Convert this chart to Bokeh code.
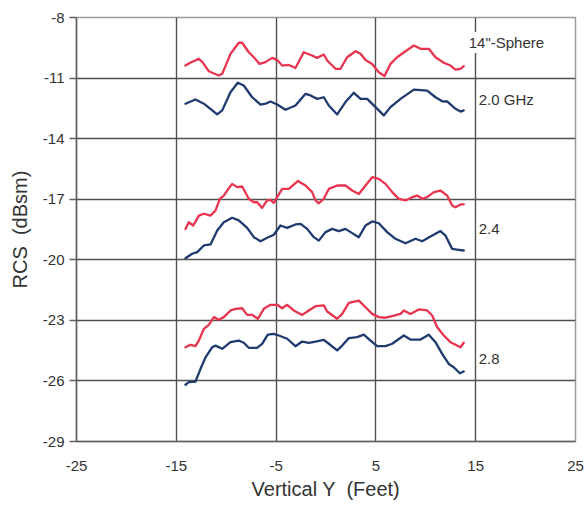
from bokeh.plotting import figure
from bokeh.models import Range1d, FixedTicker, Label
from bokeh.embed import file_html
from bokeh.resources import INLINE

# ---- data ----
x_ticks = [-25, -15, -5, 5, 15, 25]
y_ticks = [-29, -26, -23, -20, -17, -14, -11, -8]

red_20_x = [-14.08, -13.6, -12.75, -12.4, -11.75, -10.74, -10.4, -9.57, -8.74, -8.4, -7.74, -7.23, -6.66, -6.06, -5.39,
            -4.9, -4.39, -3.73, -3.06, -2.23, -1.4, -0.9, -0.22, 0.12, 0.95, 1.45, 2.12, 2.96, 3.46, 3.96,
            4.63, 5.29, 5.86, 6.46, 7.13, 7.97, 8.8, 9.47, 10.3, 10.97, 11.8, 12.47, 12.97, 13.48, 13.8]
red_20_y = [-10.38, -10.24, -10.05, -10.2, -10.66, -10.87, -10.79, -9.8, -9.25, -9.25, -9.72, -9.97, -10.3, -10.21, -10.0,
            -10.1, -10.38, -10.35, -10.5, -9.72, -9.88, -10.0, -9.83, -10.13, -10.54, -10.54, -9.97, -9.67, -9.8, -10.1,
            -10.3, -10.71, -10.9, -10.3, -9.97, -9.67, -9.39, -9.55, -9.55, -9.97, -10.24, -10.38, -10.58, -10.54, -10.41]

blue_20_x = [-14.08, -13.08, -12.24, -10.9, -10.4, -9.57, -8.84, -8.24, -7.4, -6.56, -6.06, -5.56, -4.89, -4.06, -3.06,
             -2.05, -1.55, -0.88, -0.22, 0.28, 1.12, 1.95, 2.79, 3.46, 4.13, 4.96, 5.79, 6.46, 7.47, 8.8,
             10.14, 10.97, 11.64, 12.14, 12.98, 13.48, 13.8]
blue_20_y = [-12.27, -12.06, -12.27, -12.8, -12.6, -11.7, -11.23, -11.37, -11.95, -12.31, -12.27, -12.16, -12.31, -12.57, -12.36,
             -11.78, -11.86, -12.03, -11.95, -12.36, -12.8, -12.19, -11.73, -12.03, -12.03, -12.44, -12.85, -12.44, -12.03, -11.57,
             -11.62, -11.95, -12.15, -12.16, -12.52, -12.66, -12.6]

red_24_x = [-14.08, -13.75, -13.3, -12.74, -12.24, -11.57, -11.07, -10.64, -10.24, -9.9, -9.4, -8.9, -8.4, -7.74, -7.23,
            -6.9, -6.4, -5.9, -5.57, -5.23, -4.9, -4.39, -3.73, -2.82, -2.05, -1.39, -1.05, -0.72, -0.22, 0.28,
            1.12, 1.95, 2.62, 3.29, 3.96, 4.63, 5.29, 5.96, 6.63, 7.3, 7.97, 8.64, 9.14, 9.64, 10.14,
            10.81, 11.47, 12.14, 12.64, 12.97, 13.48, 13.8]
red_24_y = [-18.47, -18.14, -18.3, -17.81, -17.72, -17.81, -17.56, -16.98, -16.82, -16.57, -16.24, -16.4, -16.37, -16.98, -17.15,
            -17.15, -17.43, -17.06, -17.03, -17.18, -16.9, -16.49, -16.49, -16.1, -16.32, -16.65, -17.06, -17.2, -16.98, -16.49,
            -16.32, -16.32, -16.57, -16.74, -16.32, -15.91, -15.99, -16.24, -16.65, -16.98, -17.06, -16.9, -16.82, -16.98, -16.9,
            -16.65, -16.57, -16.82, -17.31, -17.4, -17.26, -17.26]

blue_24_x = [-14.08, -13.41, -12.9, -12.24, -11.57, -10.9, -10.24, -9.4, -8.74, -7.9, -7.23, -6.56, -5.89, -5.23, -4.56,
             -3.89, -3.06, -2.55, -1.89, -1.22, -0.72, -0.05, 0.62, 1.28, 1.95, 2.62, 3.29, 3.96, 4.63, 5.29,
             6.13, 6.96, 7.97, 8.97, 9.64, 10.47, 11.47, 11.97, 12.64, 13.14, 13.8]
blue_24_y = [-19.92, -19.7, -19.62, -19.29, -19.24, -18.55, -18.14, -17.92, -18.05, -18.42, -18.88, -19.08, -18.91, -18.76, -18.3,
             -18.42, -18.25, -18.22, -18.47, -18.88, -19.05, -18.63, -18.47, -18.58, -18.47, -18.68, -18.88, -18.3, -18.1, -18.19,
             -18.63, -18.96, -19.18, -18.96, -19.08, -18.85, -18.58, -18.8, -19.46, -19.5, -19.54]

red_28_x = [-14.08, -13.58, -13.08, -12.74, -12.24, -11.74, -11.24, -10.74, -10.24, -9.57, -9.07, -8.4, -7.9, -7.4, -6.83,
            -6.23, -5.56, -4.89, -4.39, -3.89, -3.23, -2.39, -1.72, -1.05, -0.22, 0.12, 1.12, 1.62, 2.29, 3.29,
            3.96, 4.63, 5.29, 5.96, 6.63, 7.47, 7.8, 8.46, 9.3, 10.14, 10.64, 11.14, 11.8, 12.47, 13.14, 13.48, 13.8]
red_28_y = [-24.33, -24.21, -24.28, -24.0, -23.42, -23.22, -22.84, -22.97, -22.84, -22.51, -22.43, -22.4, -22.73, -22.73, -22.92,
            -22.43, -22.23, -22.23, -22.4, -22.23, -22.51, -22.73, -22.51, -22.3, -22.26, -22.56, -22.92, -22.68, -22.13, -22.02,
            -22.35, -22.68, -22.84, -22.87, -22.79, -22.68, -22.51, -22.68, -22.46, -22.51, -22.76, -23.34, -23.75, -24.08, -24.25,
            -24.33, -24.11]

blue_28_x = [-14.08, -13.75, -13.08, -12.57, -12.07, -11.4, -11.07, -10.4, -9.57, -8.74, -8.24, -7.74, -6.9, -6.4, -5.83,
             -5.23, -4.73, -3.89, -3.06, -2.39, -1.72, -1.05, -0.22, 0.28, 1.12, 1.62, 2.29, 3.12, 3.79, 4.46,
             5.13, 5.96, 6.63, 7.8, 8.46, 9.47, 10.3, 10.97, 11.64, 12.3, 12.8, 13.41, 13.8]
blue_28_y = [-26.19, -26.06, -26.03, -25.4, -24.83, -24.33, -24.25, -24.41, -24.08, -24.0, -24.11, -24.36, -24.36, -24.16, -23.71,
             -23.67, -23.75, -23.91, -24.28, -24.05, -24.11, -24.05, -23.97, -24.16, -24.49, -24.25, -23.88, -23.83, -23.71, -24.0,
             -24.28, -24.28, -24.16, -23.75, -23.95, -23.95, -23.71, -24.08, -24.66, -25.16, -25.32, -25.62, -25.53]

label_texts = ['14"-Sphere', "2.0 GHz", "2.4", "2.8"]
label_x = [14.1, 15.1, 15.1, 15.1]
label_y = [-9.24, -12.08, -18.46, -24.9]

RED = "#e8344e"
BLUE = "#1f3a6e"
FONT = "Liberation Sans"
TXT = "#333333"
GRID = "#505050"

p = figure(width=585, height=506, output_backend="svg", toolbar_location=None,
           x_range=Range1d(-25, 25), y_range=Range1d(-29, -8),
           min_border_left=76, min_border_right=10, min_border_top=17, min_border_bottom=65)
p.background_fill_color = "white"
p.border_fill_color = "white"
p.outline_line_color = "#9a9a9a"
p.outline_line_width = 1.5

for ax in (p.xaxis[0], p.yaxis[0]):
    ax.major_label_text_font = FONT
    ax.major_label_text_font_size = "15px"
    ax.major_label_text_color = TXT
    ax.axis_label_text_font = FONT
    ax.axis_label_text_font_size = "20px"
    ax.axis_label_text_font_style = "normal"
    ax.axis_label_text_color = TXT
    ax.minor_tick_line_color = None
    ax.axis_line_color = "#606060"
    ax.axis_line_width = 1.5
    ax.major_tick_line_color = "#606060"
    ax.major_tick_line_width = 1.5

p.xaxis[0].ticker = FixedTicker(ticks=x_ticks)
p.yaxis[0].ticker = FixedTicker(ticks=y_ticks)
p.xaxis[0].major_label_overrides = {t: str(t) for t in x_ticks}
p.yaxis[0].major_label_overrides = {t: str(t) for t in y_ticks}
p.xaxis[0].axis_label = "Vertical Y \u00a0(Feet)"
p.yaxis[0].axis_label = "RCS \u00a0(dBsm)"
p.xaxis[0].major_tick_out = 0
p.xaxis[0].major_tick_in = 0
p.xaxis[0].major_label_standoff = 19
p.xaxis[0].axis_label_standoff = 4
p.yaxis[0].major_tick_out = 7
p.yaxis[0].major_tick_in = 0
p.yaxis[0].major_label_standoff = 5
p.yaxis[0].axis_label_standoff = 9

p.xgrid[0].grid_line_color = GRID
p.xgrid[0].grid_line_width = 1.4
p.ygrid[0].grid_line_color = GRID
p.ygrid[0].grid_line_width = 1.4

series = [
    (red_20_x, red_20_y, RED), (blue_20_x, blue_20_y, BLUE),
    (red_24_x, red_24_y, RED), (blue_24_x, blue_24_y, BLUE),
    (red_28_x, red_28_y, RED), (blue_28_x, blue_28_y, BLUE),
]
for xs, ys, c in series:
    p.line(xs, ys, line_color=c, line_width=2.3, line_join="round", line_cap="round")

for t, lx, ly in zip(label_texts, label_x, label_y):
    p.add_layout(Label(x=lx, y=ly, text=t, text_font=FONT, text_font_size="15px",
                       text_color=TXT, text_baseline="middle", text_align="left",
                       background_fill_color="white", padding=2))

open("out.html", "w").write(file_html(p, INLINE))
